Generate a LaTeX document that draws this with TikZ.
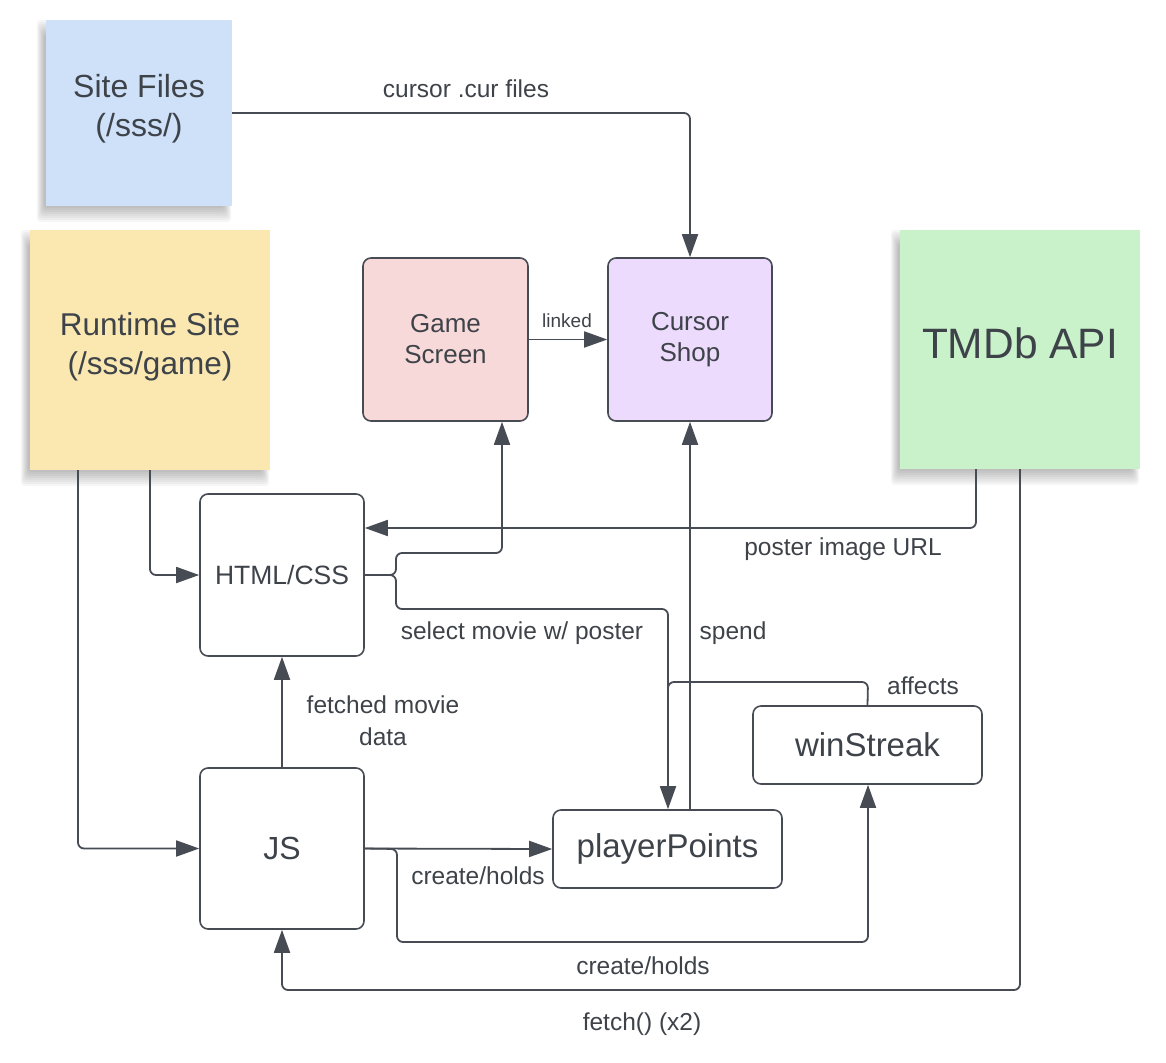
\documentclass[tikz,border=0pt]{standalone}
\usepackage{fontspec}
\setmainfont{Liberation Sans}
\usetikzlibrary{arrows.meta,backgrounds}
\definecolor{siteblue}{HTML}{CFE1F9}
\definecolor{rtyellow}{HTML}{FAE8B0}
\definecolor{tmgreen}{HTML}{C9F2CB}
\definecolor{gamepink}{HTML}{F8D9DA}
\definecolor{shoppurple}{HTML}{ECDBFD}
\definecolor{ln}{HTML}{474C54}
\definecolor{txt}{HTML}{3E434A}
\tikzset{
  sticky/.style={draw=none, align=center, text=txt, inner sep=0pt},
  box/.style={draw=ln, line width=1.6pt, rounded corners=8pt, align=center, text=txt, inner sep=0pt},
  conn/.style={draw=ln, line width=1.8pt, rounded corners=6pt, -{Triangle[length=23pt,width=16pt]}},
  line/.style={draw=ln, line width=1.8pt, rounded corners=6pt},
  lbl/.style={text=txt, inner sep=0pt, align=center, font=\fontsize{24.5}{32}\selectfont},
}
\newcommand{\softshadow}[1]{%
  \begin{scope}[on background layer]
  \foreach \r in {-6,-4,...,8}{
    \fill[black, opacity=0.035, rounded corners=4pt]
      ([xshift=-5pt-0.5*\r pt, yshift=-8pt-\r pt]#1.south west) rectangle
      ([xshift=-5pt+0.5*\r pt, yshift=-8pt+\r pt]#1.north east);
  }
  \end{scope}}
\begin{document}
\begin{tikzpicture}[x=1pt,y=-1pt]
\useasboundingbox (0,0) rectangle (1166,1062);
% stickies
\node[sticky, fill=siteblue, minimum width=186pt, minimum height=186pt] (site) at (139,113) {};
\node[sticky, font=\fontsize{32}{39}\selectfont] (sitet) at (139,109) {Site Files\\(/sss/)};
\node[sticky, fill=rtyellow, minimum width=240pt, minimum height=240pt] (rt) at (150,350) {};
\node[sticky, font=\fontsize{31.5}{39}\selectfont] (rtt) at (150,347) {Runtime Site\\(/sss/game)};
\node[sticky, fill=tmgreen, minimum width=240pt, minimum height=239pt] (tmdb) at (1020,349.5) {};
\node[sticky, font=\fontsize{42.5}{48}\selectfont] (tmdbt) at (1020,343) {TMDb API};
\softshadow{site}
\softshadow{rt}
\softshadow{tmdb}
% boxes
\node[box, fill=gamepink, minimum width=165pt, minimum height=163pt,
  font=\fontsize{26}{31}\selectfont] (game) at (445.5,339.5) {Game\\Screen};
\node[box, fill=shoppurple, minimum width=164pt, minimum height=163pt,
  font=\fontsize{26}{31}\selectfont] (shop) at (690,339.5) {Cursor\\Shop};
\node[box, minimum width=164pt, minimum height=162pt,
  font=\fontsize{26.5}{31}\selectfont] (html) at (282,575) {HTML/CSS};
\node[box, minimum width=164pt, minimum height=161pt,
  font=\fontsize{32}{38}\selectfont] (js) at (282,848.5) {JS};
\node[box, minimum width=229pt, minimum height=78pt,
  font=\fontsize{33}{38}\selectfont] (pp) at (667.5,849) {playerPoints};
\node[box, minimum width=229pt, minimum height=78pt,
  font=\fontsize{33}{38}\selectfont] (ws) at (867.5,745) {winStreak};
% connectors
\draw[conn] (site.east) -| (shop.north);
\node[lbl] (lcur) at (466,89) {cursor .cur files};
\draw[conn] (game.east) -- (shop.west);
\node[lbl, font=\fontsize{19}{22}\selectfont] (llink) at (567,321) {linked};
\draw[conn] ([xshift=-44pt]tmdb.south) |- ([yshift=47pt]html.east);
\node[lbl] (lposter) at (843,549) {poster image URL};
\draw[conn] (html.east) -- (396,575) -- (396,553) -- (502,553) -- ([xshift=56.5pt]game.south);
\draw[conn] (html.east) -- (396,575) -- (396,609) -- (668,609) -- ([xshift=0.5pt]pp.north);
\node[lbl] (lsel) at (522,633) {select movie w/ poster};
\draw[conn] ([xshift=22.5pt]pp.north) -- (shop.south);
\node[lbl] (lspend) at (733,633) {spend};
\draw[line] (ws.north) -- (868,682) -- (668,682) -- (668,740);
\node[lbl] (laff) at (923,686) {affects};
\draw[conn] (js.north) -- (html.south);
\node[lbl] (lfetched) at (383,721) {fetched movie\\data};
\draw[conn] (rt.south) |- (html.west);
\draw[conn] ([xshift=-72pt]rt.south) |- (js.west);
\draw[conn] (js.east) -- (pp.west);
\node[lbl] (lch1) at (478,876) {create/holds};
\draw[conn] (js.east) -- (397,849) -- (397,942) -- (868,942) -- ([xshift=0.5pt]ws.south);
\node[lbl] (lch2) at (643,966) {create/holds};
\draw[conn] (tmdb.south) -- (1020,990) -| (js.south);
\node[lbl] (lfetch) at (642,1024) {fetch() (x2)};
\end{tikzpicture}
\end{document}
